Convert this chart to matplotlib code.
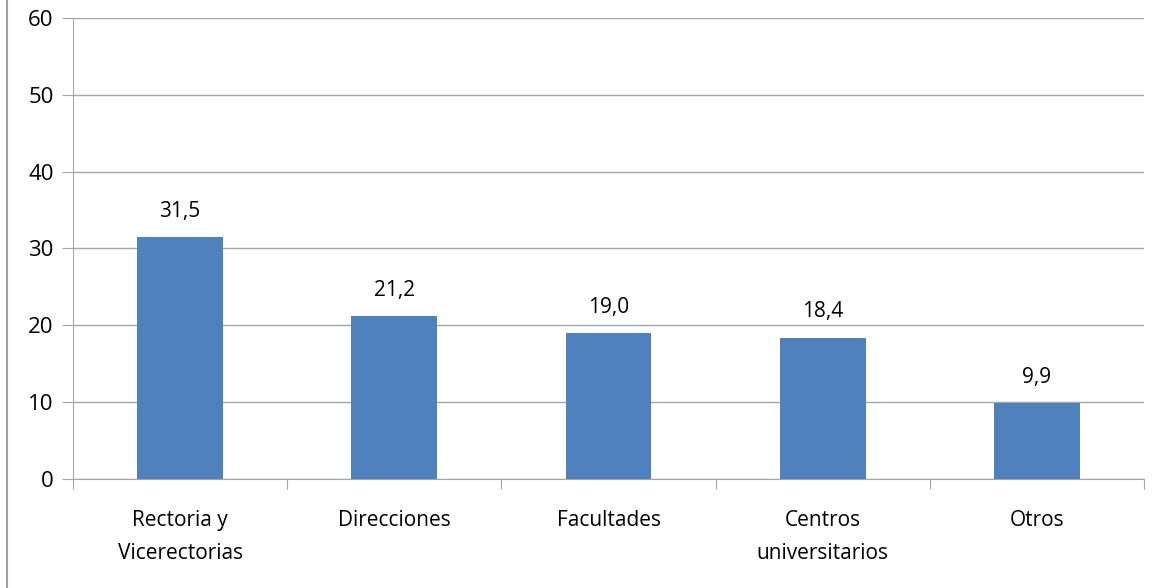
import matplotlib.pyplot as plt
from matplotlib.lines import Line2D

categorias = ["Rectoria y\nVicerectorias", "Direcciones", "Facultades", "Centros\nuniversitarios", "Otros"]
valores = [31.5, 21.2, 19.0, 18.4, 9.9]
etiquetas = ["31,5", "21,2", "19,0", "18,4", "9,9"]

plt.rcParams['font.family'] = ['Open Sans', 'DejaVu Sans']

fig = plt.figure(figsize=(11.53, 5.88), dpi=100)
ax = fig.add_axes([0.0633, 0.1854, 0.929, 0.7840])

x = list(range(len(valores)))
ax.bar(x, valores, width=0.4, color="#4F81BD", zorder=3)
for xi, v, t in zip(x, valores, etiquetas):
    ax.text(xi, v + 2.0, t, ha="center", va="bottom", fontsize=15)

ax.set_xlim(-0.5, 4.5)
ax.set_ylim(0, 60)
ax.set_yticks(range(0, 61, 10))
ax.yaxis.grid(True, color="#A6A6A6", linewidth=1, zorder=0)
ax.tick_params(axis="y", labelsize=16, length=8, color="#A6A6A6", direction="out", pad=6)

ax.set_xticks([i + 0.5 for i in range(-1, 5)], minor=False)
ax.set_xticklabels([])
ax.set_xticks(x, minor=True)
ax.set_xticklabels(categorias, minor=True, fontsize=15, linespacing=1.75)
ax.tick_params(axis="x", which="major", length=7, color="#A6A6A6")
ax.tick_params(axis="x", which="minor", length=0, pad=22)

for s in ["top", "right"]:
    ax.spines[s].set_visible(False)
ax.spines["left"].set_color("#A6A6A6")
ax.spines["bottom"].set_color("#A6A6A6")

fig.add_artist(Line2D([0.0065, 0.0065], [0, 1], color="#A0A0A0", linewidth=1.5))

plt.savefig("out.png", dpi=100)
plt.close()
